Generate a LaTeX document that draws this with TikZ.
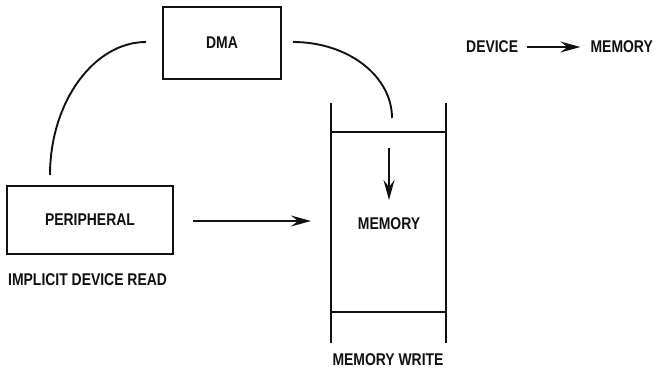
\documentclass[tikz,border=0pt]{standalone}
\usepackage{fontspec}
\setmainfont{Liberation Sans}[FakeStretch=0.82]
\usepackage{tikz}
\usetikzlibrary{arrows.meta, positioning}
\definecolor{encre}{HTML}{111111}
\tikzset{
  bloc/.style={rectangle, draw=encre, line width=2.2pt, text=encre,
    font=\fontsize{17}{20}\selectfont\bfseries, align=center, inner sep=0pt},
  etiquette/.style={font=\fontsize{17}{20}\selectfont\bfseries, text=encre, inner sep=0pt},
  fleche/.style={-{Stealth[length=20pt, width=11pt, inset=7pt]}, line width=1.9pt, color=encre},
  lien/.style={line width=1.9pt, color=encre},
  paroi/.style={line width=2.3pt, color=encre}
}

\begin{document}
\begin{tikzpicture}[x=1pt, y=-1pt]
    \useasboundingbox (0,0) rectangle (658,373);

    % Blocs
    \node[bloc, minimum width=118pt, minimum height=72pt] (dma) at (222,43) {DMA};
    \node[bloc, minimum width=166pt, minimum height=68pt] (periph) at (90,220) {PERIPHERAL};
    \node[etiquette, anchor=west] (lecture) at (8,280) {IMPLICIT DEVICE READ};

    % Memoire (deux parois, deux traverses)
    \coordinate (mhg) at (331,103);
    \coordinate (mhd) at (446,103);
    \coordinate (mbg) at (331,343);
    \coordinate (mbd) at (446,343);
    \coordinate (thg) at (331,132);
    \coordinate (thd) at (446,132);
    \coordinate (tbg) at (331,312);
    \coordinate (tbd) at (446,312);
    \draw[paroi] (mhg) -- (mbg);
    \draw[paroi] (mhd) -- (mbd);
    \draw[paroi] (thg) -- (thd);
    \draw[paroi] (tbg) -- (tbd);
    \node[etiquette] (mem) at (389,224) {MEMORY};
    \node[etiquette] (ecriture) at (388,360) {MEMORY WRITE};

    % Liaisons vers le DMA
    \coordinate (g1) at (146,42);
    \coordinate (g2) at (50,175);
    \coordinate (d1) at (293,42);
    \coordinate (d2) at (392,118);
    \draw[lien] (g1) .. controls (94,42) and (50,102) .. (g2);
    \draw[lien] (d1) .. controls (348,42) and (392,76) .. (d2);

    % Transferts
    \coordinate (t1) at (389,148);
    \coordinate (t2) at (389,200);
    \draw[fleche] (t1) -- (t2);
    \coordinate (p1) at (193,221);
    \coordinate (p2) at (311,221);
    \draw[fleche] (p1) -- (p2);

    % Legende
    \node[etiquette, anchor=west] (dev) at (466,47) {DEVICE};
    \node[etiquette, anchor=east] (cible) at (653,47) {MEMORY};
    \draw[fleche, shorten <=9pt, shorten >=10pt] (dev.east) -- (cible.west);
\end{tikzpicture}
\end{document}
